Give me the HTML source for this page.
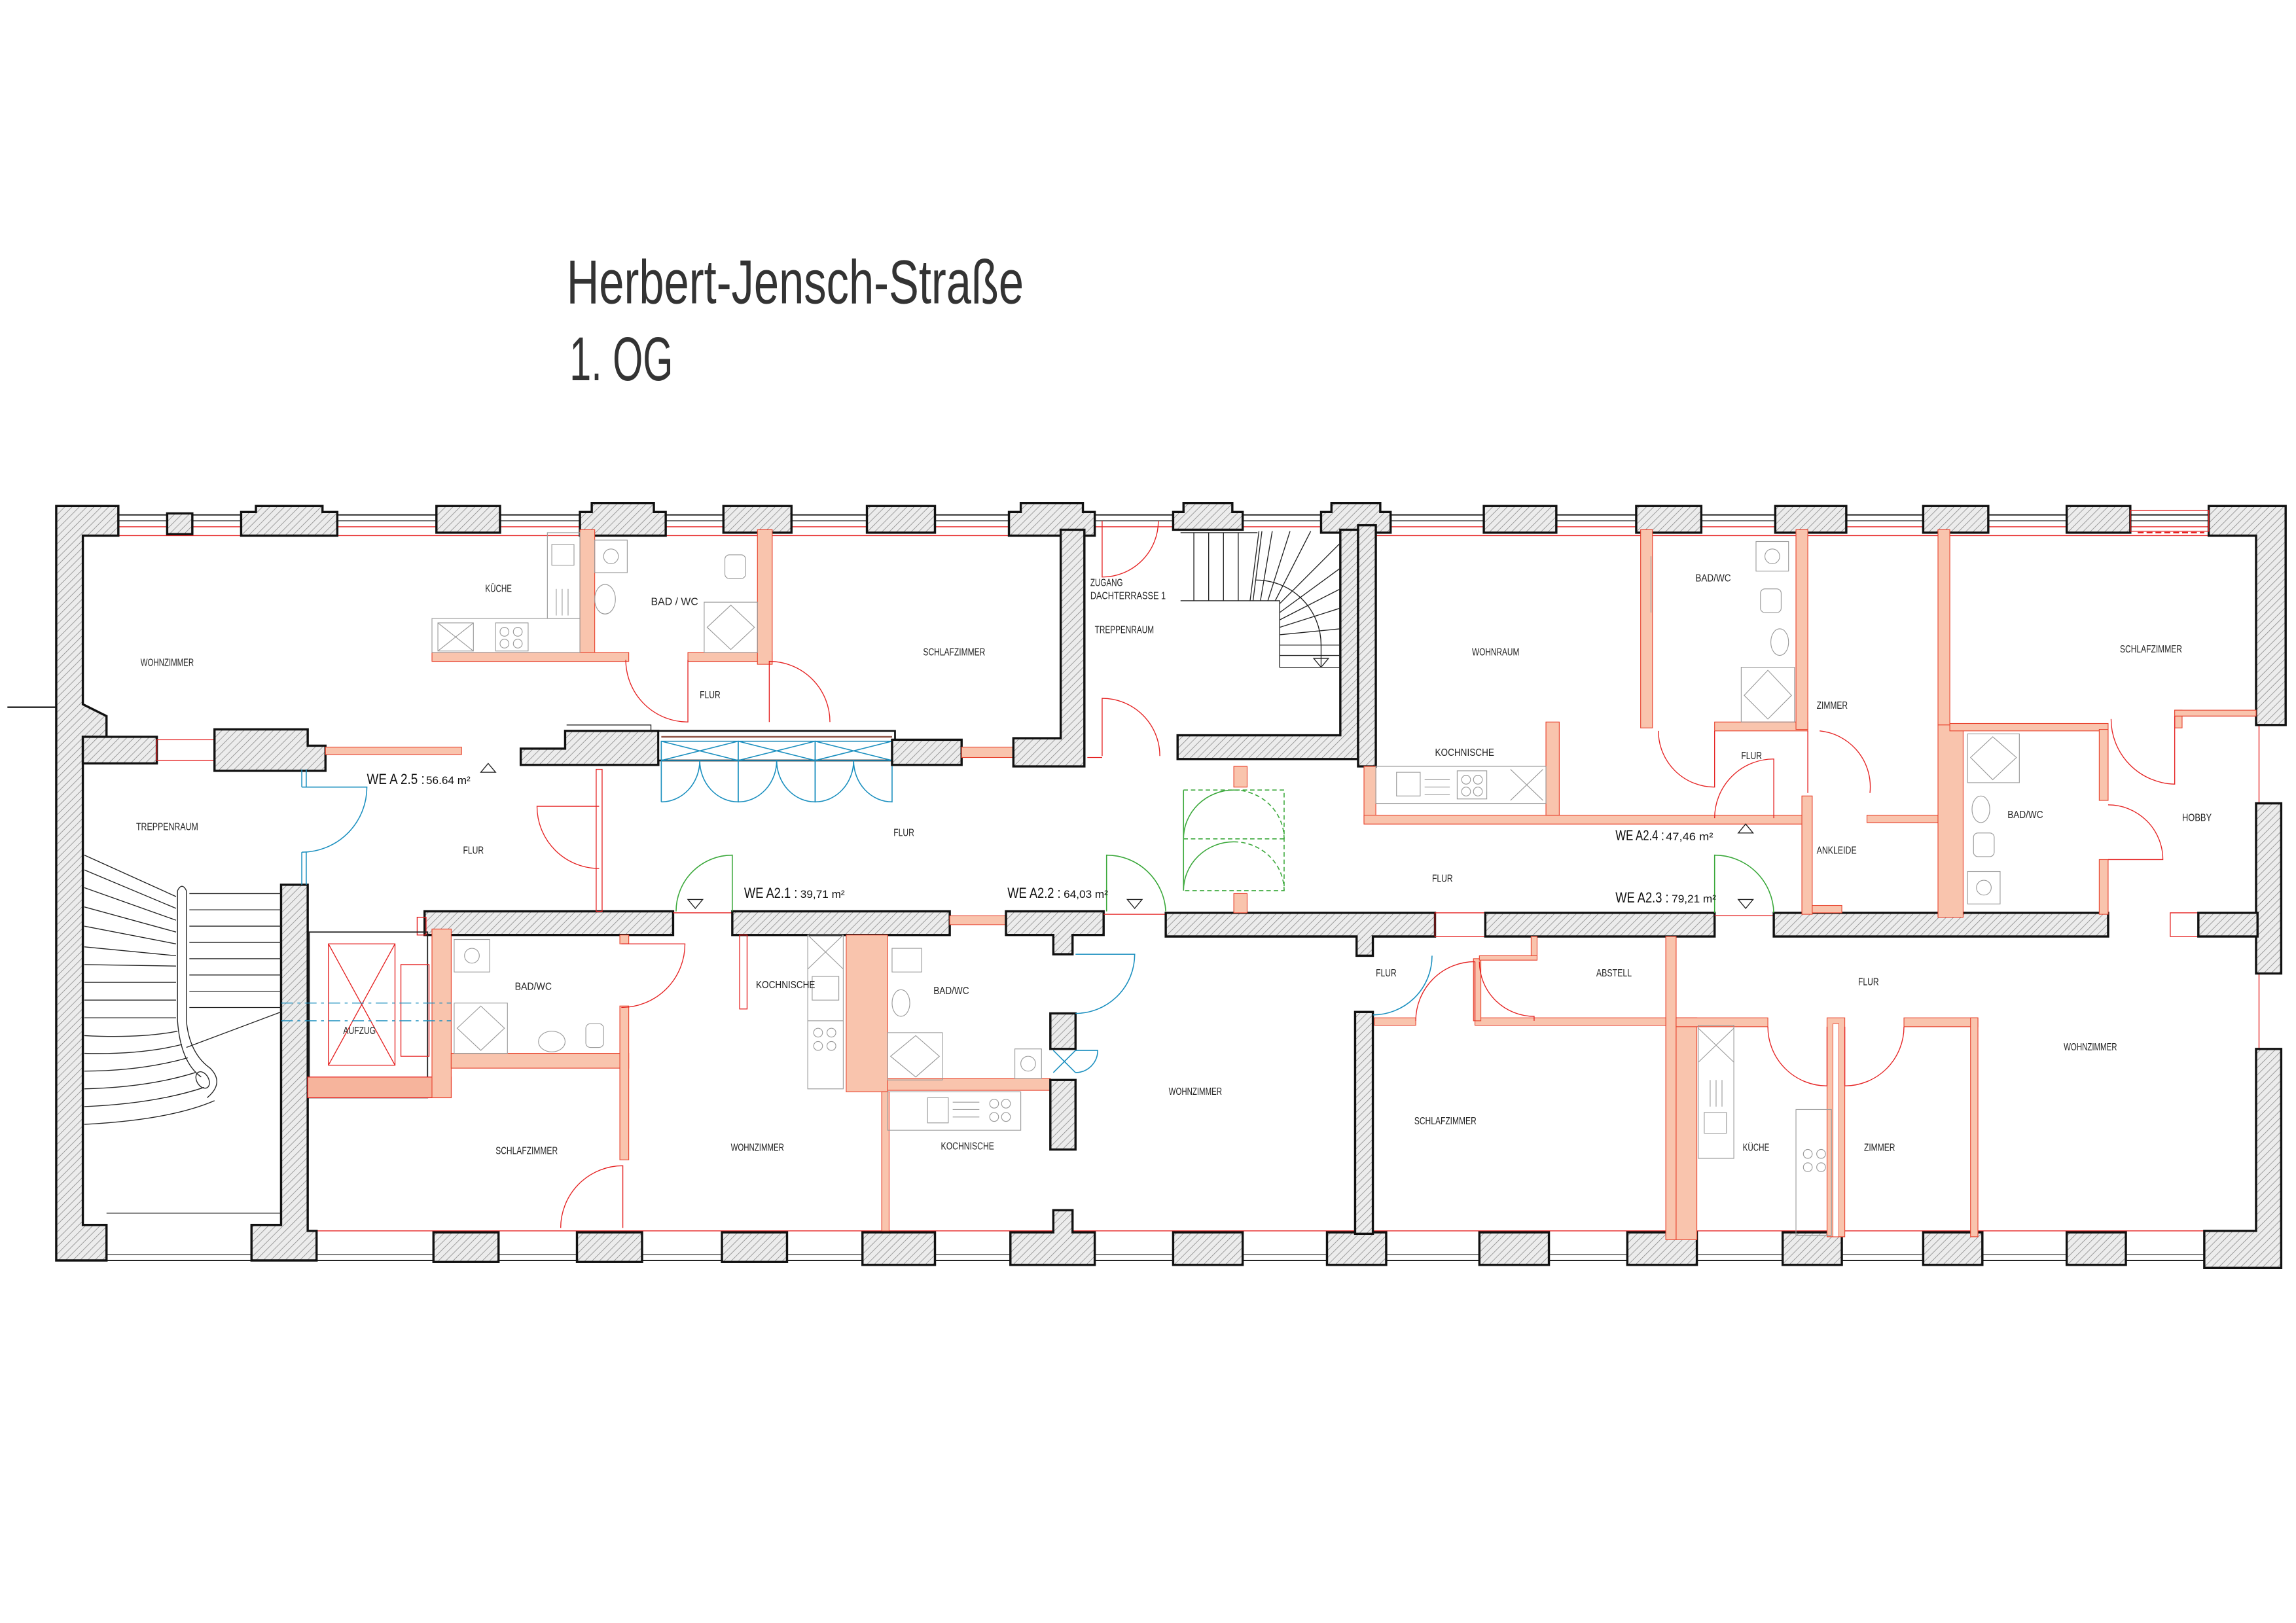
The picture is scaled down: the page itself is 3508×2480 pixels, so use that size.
<!DOCTYPE html>
<html><head><meta charset="utf-8"><style>
html,body{margin:0;padding:0;background:#fff}
svg{display:block}
.w{fill:url(#h);stroke:#111;stroke-width:1.5;stroke-linejoin:miter}
.o{fill:#f9c4ad;stroke:#e8432e;stroke-width:0.5}
.r{fill:none;stroke:#e52222;stroke-width:0.6}
.k{fill:none;stroke:#222;stroke-width:0.6}
.b{fill:none;stroke:#1a8fbf;stroke-width:0.7}
.g{fill:none;stroke:#3aa83a;stroke-width:0.7}
.gd{fill:none;stroke:#3aa83a;stroke-width:0.7;stroke-dasharray:3 2}
.f{fill:none;stroke:#9a9a9a;stroke-width:0.5}
.l{font-family:"Liberation Sans Narrow","Liberation Sans",sans-serif;font-size:7px;fill:#222}
.we{font-family:"Liberation Sans Narrow","Liberation Sans",sans-serif;font-size:10px;fill:#111}
.ws{font-family:"Liberation Sans Narrow","Liberation Sans",sans-serif;font-size:7.5px;fill:#111}
.t{font-family:"Liberation Sans Narrow","Liberation Sans",sans-serif;font-size:42px;fill:#333}
</style></head><body>
<svg width="3508" height="2480" viewBox="0 0 1552 1097" xmlns="http://www.w3.org/2000/svg">
<defs>
<pattern id="h" width="3.5" height="3.5" patternUnits="userSpaceOnUse" patternTransform="rotate(45)">
<rect width="3.5" height="3.5" fill="#ececec"/><line x1="0" y1="0" x2="0" y2="3.5" stroke="#8a8a8a" stroke-width="0.7"/></pattern>
</defs>
<rect width="1552" height="1097" fill="#fff"/>

<!-- Title -->
<text class="t" x="383" y="205" textLength="309" lengthAdjust="spacingAndGlyphs">Herbert-Jensch-Straße</text>
<text class="t" x="385" y="257" textLength="70" lengthAdjust="spacingAndGlyphs">1. OG</text>

<!-- facade lines -->
<line x1="5" y1="478" x2="38" y2="478" stroke="#111" stroke-width="1"/>
<line x1="80" y1="348" x2="1493" y2="348" stroke="#222" stroke-width="0.8"/>
<line x1="80" y1="352" x2="1493" y2="352" stroke="#222" stroke-width="0.5"/>
<line x1="80" y1="356" x2="1493" y2="356" class="r"/>
<polyline class="r" points="57,362 717,362"/>
<polyline class="r" points="930,362 1525,362"/>
<line x1="55" y1="852" x2="1490" y2="852" stroke="#222" stroke-width="0.9"/>
<line x1="72" y1="848" x2="1490" y2="848" stroke="#222" stroke-width="0.5"/>
<line x1="208" y1="832" x2="1525" y2="832" class="r"/>
<line x1="72" y1="820" x2="190" y2="820" class="k"/>
<line x1="1527" y1="490" x2="1527" y2="857" class="r"/>

<!-- left outer wall -->
<polygon class="w" points="38,342 80,342 80,362 56,362 56,476 72,484 72,498 56,498 56,828 72,828 72,852 38,852"/>
<!-- right outer wall -->
<polygon class="w" points="1493,342 1545,342 1545,490 1525,490 1525,362 1493,362"/>
<rect class="w" x="1525" y="543" width="17" height="115"/>
<polygon class="w" points="1525,709 1542,709 1542,857 1490,857 1490,832 1525,832"/>

<!-- top piers -->
<g>
<rect class="w" x="113" y="347" width="17" height="14"/>
<polygon class="w" points="163,346 173,346 173,342 218,342 218,346 228,346 228,362 163,362"/>
<rect class="w" x="295" y="342" width="43" height="18"/>
<polygon class="w" points="392,346 400,346 400,340 442,340 442,346 450,346 450,362 392,362"/>
<rect class="w" x="489" y="342" width="46" height="18"/>
<rect class="w" x="586" y="342" width="46" height="18"/>
<polygon class="w" points="682,346 690,346 690,340 732,340 732,346 740,346 740,362 682,362"/>
<polygon class="w" points="793,346 800,346 800,340 833,340 833,346 840,346 840,358 793,358"/>
<polygon class="w" points="893,346 900,346 900,340 933,340 933,346 940,346 940,360 893,360"/>
<rect class="w" x="1003" y="342" width="49" height="18"/>
<rect class="w" x="1106" y="342" width="44" height="18"/>
<rect class="w" x="1200" y="342" width="48" height="18"/>
<rect class="w" x="1300" y="342" width="44" height="18"/>
<rect class="w" x="1397" y="342" width="43" height="18"/>
<rect class="r" x="1440" y="345" width="53" height="14"/>
<line x1="1445" y1="360" x2="1490" y2="360" stroke="#e52222" stroke-width="1" stroke-dasharray="4 2"/>
</g>

<!-- bottom piers -->
<g>
<polygon class="w" points="190,598 208,598 208,832 214,832 214,852 170,852 170,828 190,828"/>
<rect class="w" x="293" y="833" width="44" height="20"/>
<rect class="w" x="390" y="833" width="44" height="20"/>
<rect class="w" x="488" y="833" width="44" height="20"/>
<rect class="w" x="583" y="833" width="49" height="22"/>
<polygon class="w" points="683,833 712,833 712,818 725,818 725,833 740,833 740,855 683,855"/>
<rect class="w" x="793" y="833" width="47" height="22"/>
<rect class="w" x="897" y="833" width="40" height="22"/>
<rect class="w" x="1000" y="833" width="47" height="22"/>
<rect class="w" x="1100" y="833" width="47" height="22"/>
<rect class="w" x="1205" y="833" width="40" height="22"/>
<rect class="w" x="1300" y="833" width="40" height="22"/>
<rect class="w" x="1397" y="833" width="40" height="22"/>
</g>

<!-- upper middle wall -->
<rect class="w" x="56" y="498" width="50" height="18"/>
<rect class="r" x="106" y="500" width="39" height="14"/>
<polygon class="w" points="145,493 208,493 208,504 220,504 220,521 145,521"/>
<rect class="o" x="220" y="505" width="92" height="5"/>
<polygon class="w" points="352,506 382,506 382,494 445,494 445,517 352,517"/>
<rect x="445" y="494" width="160" height="20" fill="#fff" stroke="#111" stroke-width="1.2"/>
<line x1="447" y1="498" x2="603" y2="498" stroke="#8a4a3a" stroke-width="1"/>
<line x1="447" y1="501" x2="603" y2="501" class="r"/>
<g class="b">
<rect x="447" y="501" width="52" height="13"/><rect x="499" y="501" width="52" height="13"/><rect x="551" y="501" width="52" height="13"/>
<path d="M447,501 L499,514 M447,514 L499,501 M499,501 L551,514 M499,514 L551,501 M551,501 L603,514 M551,514 L603,501"/>
<path d="M447,514 L447,542 M447,542 A26 28 0 0 0 473,514 M473,514 A26 28 0 0 0 499,542 L499,514"/>
<path d="M499,514 L499,542 M499,542 A26 28 0 0 0 525,514 M525,514 A26 28 0 0 0 551,542 L551,514"/>
<path d="M551,514 L551,542 M551,542 A26 28 0 0 0 577,514 M577,514 A26 28 0 0 0 603,542 L603,514"/>
</g>
<rect class="w" x="603" y="500" width="47" height="17"/>
<rect class="o" x="650" y="505" width="35" height="7"/>
<polygon class="w" points="717,358 733,358 733,518 685,518 685,499 717,499"/>

<!-- stair room top -->
<polygon class="w" points="796,497 906,497 906,358 918,358 918,513 796,513"/>
<rect class="w" x="918" y="355" width="12" height="163"/>
<g stroke="#222" stroke-width="0.6" fill="none">
<line x1="798" y1="360" x2="850" y2="360"/><line x1="798" y1="406" x2="847" y2="406"/>
<line x1="807" y1="360" x2="807" y2="406"/><line x1="817" y1="360" x2="817" y2="406"/><line x1="827" y1="360" x2="827" y2="406"/><line x1="837" y1="360" x2="837" y2="406"/>
<path d="M851,359 L845,406 M853,359 L847,406"/>
<path d="M847,406 L865,406 L865,451 L906,451"/>
<line x1="852" y1="406" x2="860" y2="359"/><line x1="857" y1="406" x2="872" y2="359"/><line x1="862" y1="406" x2="886" y2="359"/>
<line x1="865" y1="408" x2="906" y2="367"/><line x1="865" y1="414" x2="906" y2="384"/><line x1="865" y1="419" x2="906" y2="398"/><line x1="865" y1="424" x2="906" y2="411"/>
<line x1="865" y1="429" x2="906" y2="425"/><line x1="865" y1="436" x2="906" y2="436"/><line x1="865" y1="443" x2="906" y2="443"/>
<path d="M849,392 A44 44 0 0 1 893,436 L893,450"/>
<polygon points="888,445 898,445 893,451"/>
</g>

<!-- doors Dachterrasse/Treppenraum -->
<path class="r" d="M745,352 L745,390 A38 38 0 0 0 783,352"/>
<path class="r" d="M745,511 L745,472 A39 39 0 0 1 784,511"/>
<line x1="735" y1="512" x2="745" y2="512" class="r"/>

<!-- left stair -->
<g stroke="#222" stroke-width="0.6" fill="none">
<line x1="57" y1="578" x2="119" y2="606"/><line x1="57" y1="588" x2="119" y2="614"/><line x1="57" y1="600" x2="119" y2="622"/>
<line x1="57" y1="613" x2="119" y2="630"/><line x1="57" y1="626" x2="119" y2="638"/><line x1="57" y1="640" x2="119" y2="646"/>
<line x1="57" y1="652" x2="119" y2="653"/><line x1="57" y1="664" x2="119" y2="664"/><line x1="57" y1="676" x2="119" y2="676"/>
<line x1="57" y1="688" x2="119" y2="688"/>
<path d="M57,700 Q95,702 120,697 M57,712 Q95,713 123,706 M57,724 Q95,724 127,715 M57,736 Q100,735 132,725 M57,748 Q105,746 138,735 M57,760 Q115,757 145,744"/>
<path d="M120,602 L120,690 Q122,718 136,728 M126,602 L126,690 Q128,712 142,722 Q152,732 140,742"/>
<path d="M120,602 Q123,596 126,602"/>
<ellipse cx="137" cy="730" rx="4" ry="6" transform="rotate(-30 137 730)"/>
<line x1="128" y1="604" x2="190" y2="604"/><line x1="128" y1="615" x2="190" y2="615"/><line x1="128" y1="626" x2="190" y2="626"/>
<line x1="128" y1="637" x2="190" y2="637"/><line x1="128" y1="648" x2="190" y2="648"/><line x1="128" y1="659" x2="190" y2="659"/>
<line x1="128" y1="670" x2="190" y2="670"/><line x1="128" y1="681" x2="190" y2="681"/>
<line x1="190" y1="684" x2="126" y2="708"/>
</g>

<!-- lower middle wall -->
<polygon class="w" points="287,616 455,616 455,632 287,632"/>
<rect class="r" x="282" y="620" width="6" height="12"/>
<line x1="455" y1="617" x2="495" y2="617" class="r"/>
<rect class="w" x="495" y="616" width="147" height="16"/>
<rect class="o" x="642" y="619" width="38" height="6"/>
<polygon class="w" points="680,616 746,616 746,632 725,632 725,645 712,645 712,632 680,632"/>
<line x1="746" y1="618" x2="788" y2="618" class="r"/>
<polygon class="w" points="788,617 970,617 970,633 928,633 928,646 917,646 917,633 788,633"/>
<rect class="r" x="970" y="617" width="34" height="16"/>
<rect class="w" x="1004" y="617" width="155" height="16"/>
<line x1="1159" y1="619" x2="1199" y2="619" class="r"/>
<rect class="w" x="1199" y="617" width="226" height="16"/>
<rect class="r" x="1467" y="617" width="19" height="16"/>
<rect class="w" x="1486" y="617" width="40" height="16"/>

<!-- Aufzug -->
<rect x="209" y="630" width="80" height="112" fill="none" stroke="#222" stroke-width="0.8"/>
<rect x="222" y="638" width="45" height="82" class="r"/>
<path class="r" d="M222,638 L267,720 M267,638 L222,720"/>
<rect x="271" y="652" width="19" height="62" class="r"/>
<rect x="208" y="728" width="97" height="14" fill="#f6b49c" stroke="#e52222" stroke-width="0.6"/>
<rect class="o" x="292" y="628" width="13" height="114"/>
<line x1="190" y1="678" x2="305" y2="678" stroke="#1a8fbf" stroke-width="0.6" stroke-dasharray="8 3 2 3"/>
<line x1="190" y1="690" x2="305" y2="690" stroke="#1a8fbf" stroke-width="0.6" stroke-dasharray="8 3 2 3"/>

<!-- Bath left -->
<rect class="o" x="305" y="712" width="120" height="10"/>
<rect class="o" x="419" y="680" width="6" height="104"/>
<rect class="o" x="419" y="632" width="6" height="6"/>
<path class="r" d="M420,638 L463,638 A43 43 0 0 1 420,681"/>
<path class="r" d="M421,830 L421,788 A42 42 0 0 0 379,830"/>
<g class="f">
<rect x="307" y="635" width="24" height="22"/><circle cx="319" cy="646" r="5"/>
<rect x="307" y="678" width="36" height="34"/><path d="M309,695 L325,680 L341,695 L325,710 Z"/>
<ellipse cx="373" cy="704" rx="9" ry="7"/><rect x="396" y="692" width="12" height="16" rx="3"/>
</g>

<!-- A2.1 / A2.2 -->
<rect class="r" x="500" y="632" width="5" height="50"/>
<rect class="o" x="572" y="632" width="28" height="106"/>
<rect class="o" x="596" y="738" width="5" height="94"/>
<rect class="o" x="600" y="729" width="110" height="8"/>
<rect class="w" x="710" y="685" width="17" height="24"/>
<rect class="w" x="710" y="730" width="17" height="47"/>
<g class="f">
<rect x="546" y="632" width="24" height="104"/><path d="M546,632 L570,655 M570,632 L546,655"/>
<rect x="549" y="660" width="18" height="16"/><line x1="546" y1="690" x2="570" y2="690"/>
<circle cx="553" cy="698" r="3"/><circle cx="562" cy="698" r="3"/><circle cx="553" cy="707" r="3"/><circle cx="562" cy="707" r="3"/>
<rect x="603" y="641" width="20" height="16"/><ellipse cx="609" cy="678" rx="6" ry="9"/>
<rect x="600" y="698" width="37" height="32"/><path d="M602,714 L619,700 L635,714 L619,728 Z"/>
<rect x="686" y="709" width="18" height="20"/><circle cx="695" cy="719" r="5"/>
<rect x="600" y="738" width="90" height="26"/><rect x="627" y="742" width="14" height="17"/>
<line x1="644" y1="745" x2="662" y2="745"/><line x1="644" y1="750" x2="662" y2="750"/><line x1="644" y1="755" x2="662" y2="755"/>
<circle cx="672" cy="746" r="3"/><circle cx="680" cy="746" r="3"/><circle cx="672" cy="755" r="3"/><circle cx="680" cy="755" r="3"/>
</g>
<path class="b" d="M727,645 L767,645 A40 40 0 0 1 727,685"/>
<path class="b" d="M727,710 L742,710 A15 15 0 0 1 727,725 M712,710 L727,725 M727,710 L712,725"/>
<path class="g" d="M495,616 L495,578 A38 38 0 0 0 457,616"/>
<path class="g" d="M748,616 L748,578 A40 40 0 0 1 788,616"/>
<path class="b" d="M204,520 L204,532 M207,520 L207,532 M204,532 L248,532 A44 44 0 0 1 204,576 M204,576 L204,598 M207,576 L207,598"/>
<path class="r" d="M405,545 L363,545 A42 42 0 0 0 405,587"/>
<rect class="r" x="403" y="520" width="4" height="96"/>

<!-- top left apartment -->
<rect class="o" x="392" y="358" width="10" height="83"/>
<rect class="o" x="292" y="441" width="133" height="6"/>
<rect class="o" x="465" y="441" width="57" height="6"/>
<rect class="o" x="512" y="358" width="10" height="91"/>
<path class="r" d="M465,446 L465,488 A42 42 0 0 1 423,446"/>
<path class="r" d="M520,488 L520,447 A41 41 0 0 1 561,488"/>
<path class="k" d="M383,490 L440,490 L440,494"/>
<g class="f">
<rect x="370" y="360" width="22" height="58"/><rect x="373" y="368" width="15" height="14"/>
<line x1="376" y1="398" x2="376" y2="416"/><line x1="380" y1="398" x2="380" y2="416"/><line x1="384" y1="398" x2="384" y2="416"/>
<rect x="292" y="418" width="100" height="23"/><rect x="296" y="421" width="24" height="19"/><path d="M296,421 L320,440 M320,421 L296,440"/>
<rect x="335" y="421" width="22" height="19"/><circle cx="341" cy="427" r="3"/><circle cx="350" cy="427" r="3"/><circle cx="341" cy="435" r="3"/><circle cx="350" cy="435" r="3"/>
<rect x="402" y="365" width="22" height="22"/><circle cx="413" cy="376" r="5"/>
<ellipse cx="409" cy="405" rx="7" ry="10"/>
<rect x="490" y="375" width="14" height="16" rx="3"/>
<rect x="476" y="407" width="36" height="34"/><path d="M478,424 L494,409 L510,424 L494,439 Z"/>
</g>

<!-- right upper -->
<rect class="o" x="922" y="518" width="8" height="38"/>
<rect class="o" x="922" y="551" width="300" height="6"/>
<rect class="o" x="1045" y="488" width="9" height="63"/>
<rect class="o" x="1109" y="358" width="8" height="134"/>
<rect class="o" x="1159" y="488" width="63" height="6"/>
<rect class="o" x="1214" y="358" width="8" height="135"/>
<rect class="o" x="1218" y="538" width="7" height="80"/>
<rect class="o" x="1225" y="612" width="20" height="5"/>
<rect class="o" x="1262" y="551" width="48" height="5"/>
<rect class="o" x="1310" y="358" width="8" height="132"/>
<rect class="o" x="1310" y="490" width="17" height="130"/>
<rect class="o" x="1318" y="489" width="107" height="5"/>
<rect class="o" x="1419" y="493" width="6" height="48"/>
<rect class="o" x="1419" y="581" width="6" height="37"/>
<rect class="o" x="1470" y="480" width="5" height="12"/>
<rect class="o" x="1470" y="480" width="55" height="4"/>
<g class="f">
<rect x="930" y="518" width="115" height="25"/><rect x="944" y="522" width="16" height="16"/>
<line x1="963" y1="527" x2="980" y2="527"/><line x1="963" y1="532" x2="980" y2="532"/><line x1="963" y1="537" x2="980" y2="537"/>
<rect x="985" y="521" width="20" height="19"/><circle cx="991" cy="527" r="3"/><circle cx="999" cy="527" r="3"/><circle cx="991" cy="535" r="3"/><circle cx="999" cy="535" r="3"/>
<path d="M1021,520 L1043,541 M1043,520 L1021,541"/>
<line x1="1116" y1="376" x2="1116" y2="414"/>
<rect x="1187" y="366" width="22" height="20"/><circle cx="1198" cy="376" r="5"/>
<rect x="1190" y="398" width="14" height="16" rx="3"/><ellipse cx="1203" cy="434" rx="6" ry="9"/>
<rect x="1177" y="451" width="36" height="37"/><path d="M1179,470 L1195,453 L1211,470 L1195,486 Z"/>
<rect x="1330" y="496" width="35" height="33"/><path d="M1332,512 L1347,498 L1363,512 L1347,527 Z"/>
<ellipse cx="1339" cy="547" rx="6" ry="9"/><rect x="1334" y="563" width="14" height="16" rx="3"/>
<rect x="1330" y="589" width="22" height="22"/><circle cx="1341" cy="600" r="5"/>
</g>
<path class="r" d="M1159,494 L1159,532 A38 38 0 0 1 1121,494"/>
<path class="r" d="M1222,494 L1222,536 M1230,494 A38 38 0 0 1 1264,536"/>
<path class="r" d="M1199,553 L1199,513 A40 40 0 0 0 1159,553"/>
<path class="r" d="M1470,484 L1470,530 A44 44 0 0 1 1427,486"/>
<path class="r" d="M1425,581 L1462,581 A37 37 0 0 0 1425,544"/>
<path class="g" d="M1159,617 L1159,578 A40 40 0 0 1 1199,617"/>
<!-- green double doors -->
<rect class="o" x="834" y="518" width="9" height="14"/>
<rect class="o" x="834" y="604" width="9" height="13"/>
<path class="gd" d="M800,534 L868,534 L868,602 L800,602"/>
<path class="g" d="M800,534 L800,602 M800,567 A34 33 0 0 1 834,534 M800,602 A34 33 0 0 1 834,569"/>
<path class="gd" d="M834,534 A34 33 0 0 1 868,567 M834,569 A34 33 0 0 1 868,602 M800,567 L868,567"/>

<!-- lower right -->
<rect class="w" x="916" y="684" width="12" height="150"/>
<rect class="o" x="1126" y="633" width="7" height="205"/>
<rect class="o" x="1133" y="688" width="14" height="150"/>
<rect class="o" x="1133" y="688" width="62" height="6"/>
<rect class="o" x="929" y="688" width="28" height="5"/>
<rect class="o" x="997" y="688" width="129" height="5"/>
<rect class="o" x="996" y="648" width="5" height="42"/>
<rect class="o" x="1035" y="633" width="4" height="15"/>
<rect class="o" x="1000" y="646" width="39" height="3"/>
<rect class="o" x="1235" y="688" width="12" height="148"/>
<rect x="1239" y="692" width="4" height="144" fill="#fff" stroke="#e8432e" stroke-width="0.4"/>
<rect class="o" x="1287" y="688" width="50" height="6"/>
<rect class="o" x="1332" y="688" width="5" height="148"/>
<g class="f">
<rect x="1148" y="693" width="24" height="90"/><path d="M1148,695 L1172,718 M1172,695 L1148,718"/>
<line x1="1156" y1="730" x2="1156" y2="748"/><line x1="1160" y1="730" x2="1160" y2="748"/><line x1="1164" y1="730" x2="1164" y2="748"/>
<rect x="1152" y="752" width="15" height="14"/>
<rect x="1214" y="750" width="24" height="85"/>
<circle cx="1222" cy="780" r="3"/><circle cx="1231" cy="780" r="3"/><circle cx="1222" cy="789" r="3"/><circle cx="1231" cy="789" r="3"/>
</g>
<path class="b" d="M928,686 A40 40 0 0 0 968,646"/>
<path class="r" d="M997,650 L997,690 M997,650 A40 40 0 0 0 957,690"/>
<path class="r" d="M1000,650 A37 37 0 0 0 1037,687 L1037,690"/>
<path class="r" d="M1235,694 L1235,734 M1195,694 A40 40 0 0 0 1235,734"/>
<path class="r" d="M1247,694 L1247,734 M1287,694 A40 40 0 0 1 1247,734"/>

<!-- triangles -->
<g fill="#fff" stroke="#222" stroke-width="0.6">
<polygon points="325,522 335,522 330,516"/>
<polygon points="465,608 475,608 470,614"/>
<polygon points="762,608 772,608 767,614"/>
<polygon points="1175,563 1185,563 1180,557"/>
<polygon points="1175,608 1185,608 1180,614"/>
</g>

<!-- labels -->
<g class="l">
<text x="95" y="450" textLength="36" lengthAdjust="spacingAndGlyphs">WOHNZIMMER</text>
<text x="328" y="400" textLength="18" lengthAdjust="spacingAndGlyphs">KÜCHE</text>
<text x="440" y="409" textLength="32" lengthAdjust="spacingAndGlyphs">BAD / WC</text>
<text x="473" y="472" textLength="14" lengthAdjust="spacingAndGlyphs">FLUR</text>
<text x="624" y="443" textLength="42" lengthAdjust="spacingAndGlyphs">SCHLAFZIMMER</text>
<text x="737" y="396" textLength="22" lengthAdjust="spacingAndGlyphs">ZUGANG</text>
<text x="737" y="405" textLength="51" lengthAdjust="spacingAndGlyphs">DACHTERRASSE 1</text>
<text x="740" y="428" textLength="40" lengthAdjust="spacingAndGlyphs">TREPPENRAUM</text>
<text x="92" y="561" textLength="42" lengthAdjust="spacingAndGlyphs">TREPPENRAUM</text>
<text x="313" y="577" textLength="14" lengthAdjust="spacingAndGlyphs">FLUR</text>
<text x="604" y="565" textLength="14" lengthAdjust="spacingAndGlyphs">FLUR</text>
<text x="348" y="669" textLength="25" lengthAdjust="spacingAndGlyphs">BAD/WC</text>
<text x="232" y="699" textLength="22" lengthAdjust="spacingAndGlyphs">AUFZUG</text>
<text x="511" y="668" textLength="40" lengthAdjust="spacingAndGlyphs">KOCHNISCHE</text>
<text x="631" y="672" textLength="24" lengthAdjust="spacingAndGlyphs">BAD/WC</text>
<text x="636" y="777" textLength="36" lengthAdjust="spacingAndGlyphs">KOCHNISCHE</text>
<text x="335" y="780" textLength="42" lengthAdjust="spacingAndGlyphs">SCHLAFZIMMER</text>
<text x="494" y="778" textLength="36" lengthAdjust="spacingAndGlyphs">WOHNZIMMER</text>
<text x="790" y="740" textLength="36" lengthAdjust="spacingAndGlyphs">WOHNZIMMER</text>
<text x="995" y="443" textLength="32" lengthAdjust="spacingAndGlyphs">WOHNRAUM</text>
<text x="1146" y="393" textLength="24" lengthAdjust="spacingAndGlyphs">BAD/WC</text>
<text x="1228" y="479" textLength="21" lengthAdjust="spacingAndGlyphs">ZIMMER</text>
<text x="1433" y="441" textLength="42" lengthAdjust="spacingAndGlyphs">SCHLAFZIMMER</text>
<text x="970" y="511" textLength="40" lengthAdjust="spacingAndGlyphs">KOCHNISCHE</text>
<text x="1177" y="513" textLength="14" lengthAdjust="spacingAndGlyphs">FLUR</text>
<text x="968" y="596" textLength="14" lengthAdjust="spacingAndGlyphs">FLUR</text>
<text x="1228" y="577" textLength="27" lengthAdjust="spacingAndGlyphs">ANKLEIDE</text>
<text x="1357" y="553" textLength="24" lengthAdjust="spacingAndGlyphs">BAD/WC</text>
<text x="1475" y="555" textLength="20" lengthAdjust="spacingAndGlyphs">HOBBY</text>
<text x="930" y="660" textLength="14" lengthAdjust="spacingAndGlyphs">FLUR</text>
<text x="1079" y="660" textLength="24" lengthAdjust="spacingAndGlyphs">ABSTELL</text>
<text x="1256" y="666" textLength="14" lengthAdjust="spacingAndGlyphs">FLUR</text>
<text x="1395" y="710" textLength="36" lengthAdjust="spacingAndGlyphs">WOHNZIMMER</text>
<text x="956" y="760" textLength="42" lengthAdjust="spacingAndGlyphs">SCHLAFZIMMER</text>
<text x="1178" y="778" textLength="18" lengthAdjust="spacingAndGlyphs">KÜCHE</text>
<text x="1260" y="778" textLength="21" lengthAdjust="spacingAndGlyphs">ZIMMER</text>
</g>
<text class="we" x="248" y="530" textLength="39" lengthAdjust="spacingAndGlyphs">WE A 2.5 :</text>
<text class="ws" x="288" y="530" textLength="30" lengthAdjust="spacingAndGlyphs">56.64 m²</text>
<text class="we" x="503" y="607" textLength="36" lengthAdjust="spacingAndGlyphs">WE A2.1 :</text>
<text class="ws" x="541" y="607" textLength="30" lengthAdjust="spacingAndGlyphs">39,71 m²</text>
<text class="we" x="681" y="607" textLength="36" lengthAdjust="spacingAndGlyphs">WE A2.2 :</text>
<text class="ws" x="719" y="607" textLength="30" lengthAdjust="spacingAndGlyphs">64,03 m²</text>
<text class="we" x="1092" y="568" textLength="33" lengthAdjust="spacingAndGlyphs">WE A2.4 :</text>
<text class="ws" x="1126" y="568" textLength="32" lengthAdjust="spacingAndGlyphs">47,46 m²</text>
<text class="we" x="1092" y="610" textLength="36" lengthAdjust="spacingAndGlyphs">WE A2.3 :</text>
<text class="ws" x="1130" y="610" textLength="30" lengthAdjust="spacingAndGlyphs">79,21 m²</text>
</svg>
</body></html>
